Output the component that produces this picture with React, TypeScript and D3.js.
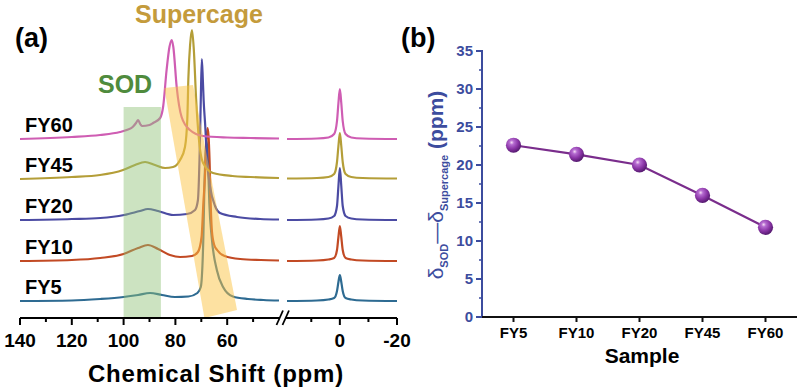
import React from "react";
import * as d3 from "d3";

type Pt = [number, number];

const FONT = "'Liberation Sans', Arial, Helvetica, sans-serif";

// ---- panel (a): 1H MAS NMR traces, [ppm, intensity]
const samples = ["FY5", "FY10", "FY20", "FY45", "FY60"];
const traceColors = ["#2e6b92", "#c24a24", "#4b4ba3", "#b49e38", "#cf5db3"];
const baselines = [21, 61, 102, 143, 183];

const fy5High: Pt[] = [
  [140, 0], [120, 0.5], [109, 2], [100, 4], [94.4, 6], [89.8, 8], [85.2, 6], [80.2, 4],
  [75, 4.5], [71.5, 8], [70.2, 14], [69.2, 64], [68.8, 114], [68.3, 150], [67.9, 160],
  [67.5, 145], [67.3, 131], [66.9, 98], [66, 64], [64, 31], [61.6, 14], [57.8, 4.5],
  [52, 2], [46, 1], [40, 0.5],
];
const fy10High: Pt[] = [
  [140, 0], [120, 1], [109, 3], [100, 7], [94.4, 13], [90.6, 16], [86.7, 12], [82.1, 6],
  [78.2, 4], [73.6, 5], [71.3, 9], [69.9, 24], [69.2, 58], [68.6, 84], [68.1, 118],
  [67.6, 133], [67.2, 125], [66.8, 100], [66.4, 60], [65.9, 30], [65, 16], [63.9, 11],
  [61, 5], [55, 2], [47, 1], [40, 0.5],
];
const fy20High: Pt[] = [
  [140, 0], [120, 1], [109, 2], [99.8, 5], [93.7, 9], [90.6, 11], [86.7, 9], [80.9, 5],
  [75.5, 6], [72.4, 10], [71.3, 20], [70.7, 60], [70.2, 120], [69.8, 161], [69.4, 140],
  [69.1, 120], [68.5, 95], [67.8, 60], [66.6, 33], [64.7, 14], [62.8, 7], [56.2, 3],
  [47.3, 1], [40, 0.5],
];
const fy45High: Pt[] = [
  [140, 0], [120, 2], [109.1, 4], [100.2, 9], [95.6, 14], [91.7, 17], [87.9, 14], [84, 11],
  [80.9, 12], [78.2, 19], [76.3, 32], [75.4, 60], [75, 100], [74.3, 135], [73.6, 149],
  [72.9, 130], [72, 80], [71, 42], [69.3, 16], [65.5, 6], [58, 3], [51, 2], [40, 1],
];
const fy60High: Pt[] = [
  [140, 0], [120, 2], [109.1, 4], [101.4, 7], [98.8, 9], [96.5, 12], [95.2, 16], [94.4, 19],
  [93.6, 15], [92.9, 13], [90, 14], [88.6, 16], [85.9, 21], [84.7, 33], [83.4, 69],
  [82.3, 92], [81.4, 99], [80.8, 92], [79.5, 52], [77.6, 22], [74.4, 9], [69.3, 3],
  [60, 1.5], [51, 1], [40, 0.5],
];

const fy5Tms: Pt[] = [
  [18.5, 0], [8, 0.5], [4, 1.5], [2, 3], [1, 10], [0.5, 19], [0, 26], [-0.5, 19], [-1, 10],
  [-2, 3], [-4, 1.5], [-8, 0.5], [-20, 0],
];
const fy10Tms: Pt[] = [
  [18.5, 0], [8, 0.5], [4, 1.5], [2, 3], [1, 11], [0.5, 24], [0, 35], [-0.5, 24], [-1, 11],
  [-2, 3], [-4, 1.5], [-8, 0.5], [-20, 0],
];
const fy20Tms: Pt[] = [
  [18.5, 0], [8, 0.5], [4, 1.5], [2, 4], [1, 14], [0.5, 34], [0, 52], [-0.5, 34], [-1, 14],
  [-2, 4], [-4, 1.5], [-8, 0.5], [-20, 0],
];
const fy45Tms: Pt[] = [
  [18.5, 0.5], [8, 1], [4, 2], [2, 5], [1, 17], [0.5, 33], [0, 46], [-0.5, 33], [-1, 17],
  [-2, 5], [-4, 2], [-8, 1], [-20, 0.5],
];
const fy60Tms: Pt[] = [
  [18.5, 0], [8, 0.5], [4, 1.5], [2, 5], [1, 18], [0.5, 36], [0, 50], [-0.5, 36], [-1, 18],
  [-2, 5], [-4, 1.5], [-8, 0.5], [-20, 0],
];

const highTraces = [fy5High, fy10High, fy20High, fy45High, fy60High];
const tmsTraces = [fy5Tms, fy10Tms, fy20Tms, fy45Tms, fy60Tms];

// shaded regions (ppm, intensity units)
const sodBand = { ppm: [100, 85.6], level: [4, 215] };
const supercageBand: Pt[] = [[84.3, 234], [73.2, 237], [56.2, 12], [68.8, 4]];

const leftMajor = [140, 120, 100, 80, 60];
const leftMinor = [130, 110, 90, 70, 50];
const rightMajor = [0, -20];
const rightMinor = [10, -10];

// ---- panel (b): chemical shift difference
const deltaValues = [22.6, 21.4, 20.0, 16.0, 11.8];
const yTicksB = [0, 5, 10, 15, 20, 25, 30, 35];
const yMinorB = [2.5, 7.5, 12.5, 17.5, 22.5, 27.5, 32.5];

const BLUE = "#3c4c9e";

export default function App() {
  // panel a scales
  const xLeft = d3.scaleLinear().domain([140, 40]).range([20, 279]);
  const xRight = d3.scaleLinear().domain([18.5, -20]).range([287, 397]);
  const yA = d3.scaleLinear().domain([0, 300]).range([322, 22]);
  const axisY = 318;

  const lineFor = (x: d3.ScaleLinear<number, number>, off: number) =>
    d3
      .line<Pt>()
      .x((d) => x(d[0]))
      .y((d) => yA(d[1] + off))
      .curve(d3.curveMonotoneX);

  // panel b scales
  const xB = d3.scalePoint<string>().domain(samples).range([482, 797]).padding(0.5);
  const yB = d3.scaleLinear().domain([0, 35]).range([317, 51]);
  const lineB = d3
    .line<number>()
    .x((_, i) => xB(samples[i]) as number)
    .y((d) => yB(d));

  return (
    <svg
      width={800}
      height={392}
      style={{ position: "absolute", left: 0, top: 0, background: "#fff" }}
      fontFamily={FONT}
    >
      <defs>
        <radialGradient id="sphere" cx="38%" cy="32%" r="68%">
          <stop offset="0%" stopColor="#f6dcf6" />
          <stop offset="22%" stopColor="#b56bd0" />
          <stop offset="62%" stopColor="#8a35a6" />
          <stop offset="100%" stopColor="#561a70" />
        </radialGradient>
      </defs>

      {/* ---------- (a) ---------- */}
      <g>
        {highTraces.map((tr, i) => (
          <path
            key={"h" + i}
            d={lineFor(xLeft, baselines[i])(tr) as string}
            fill="none"
            stroke={traceColors[i]}
            strokeWidth={2.2}
          />
        ))}
        {tmsTraces.map((tr, i) => (
          <path
            key={"t" + i}
            d={lineFor(xRight, baselines[i])(tr) as string}
            fill="none"
            stroke={traceColors[i]}
            strokeWidth={2.2}
          />
        ))}

        <rect
          x={xLeft(sodBand.ppm[0])}
          width={xLeft(sodBand.ppm[1]) - xLeft(sodBand.ppm[0])}
          y={yA(sodBand.level[1])}
          height={yA(sodBand.level[0]) - yA(sodBand.level[1])}
          fill="#8fc276"
          opacity={0.45}
        />
        <polygon
          points={supercageBand.map((d) => `${xLeft(d[0])},${yA(d[1])}`).join(" ")}
          fill="#fbc443"
          opacity={0.5}
        />

        {/* axis */}
        <line x1={xLeft(140)} x2={280} y1={axisY} y2={axisY} stroke="#000" strokeWidth={2} />
        <line x1={286} x2={xRight(-20)} y1={axisY} y2={axisY} stroke="#000" strokeWidth={2} />
        <line x1={276.5} y1={325} x2={283} y2={310.5} stroke="#000" strokeWidth={1.8} />
        <line x1={282.5} y1={325} x2={289} y2={310.5} stroke="#000" strokeWidth={1.8} />
        {leftMajor.map((t) => (
          <line key={"lM" + t} x1={xLeft(t)} x2={xLeft(t)} y1={axisY} y2={axisY + 7} stroke="#000" strokeWidth={2} />
        ))}
        {leftMinor.map((t) => (
          <line key={"lm" + t} x1={xLeft(t)} x2={xLeft(t)} y1={axisY} y2={axisY + 4} stroke="#000" strokeWidth={2} />
        ))}
        {rightMajor.map((t) => (
          <line key={"rM" + t} x1={xRight(t)} x2={xRight(t)} y1={axisY} y2={axisY + 7} stroke="#000" strokeWidth={2} />
        ))}
        {rightMinor.map((t) => (
          <line key={"rm" + t} x1={xRight(t)} x2={xRight(t)} y1={axisY} y2={axisY + 4} stroke="#000" strokeWidth={2} />
        ))}
        {leftMajor.map((t) => (
          <text key={"lt" + t} x={xLeft(t)} y={347} textAnchor="middle" fontSize={19} fontWeight="bold">
            {t}
          </text>
        ))}
        {rightMajor.map((t) => (
          <text key={"rt" + t} x={xRight(t)} y={347} textAnchor="middle" fontSize={19} fontWeight="bold">
            {t}
          </text>
        ))}
        <text x={216} y={382} textAnchor="middle" fontSize={24} fontWeight="bold" letterSpacing={0.8}>
          Chemical Shift (ppm)
        </text>

        {samples.map((s, i) => (
          <text key={"lab" + s} x={25} y={yA(baselines[i]) - 7} fontSize={20} fontWeight="bold">
            {s}
          </text>
        ))}

        <text x={15} y={47} fontSize={27} fontWeight="bold">(a)</text>
        <text x={135} y={23} fontSize={25} fontWeight="bold" fill="#c49b3c">Supercage</text>
        <text x={98} y={93} fontSize={25} fontWeight="bold" fill="#4f8b3d">SOD</text>
      </g>

      {/* ---------- (b) ---------- */}
      <g>
        <text x={401} y={47} fontSize={27} fontWeight="bold">(b)</text>

        <line x1={482} x2={482} y1={yB(35) - 1} y2={yB(0)} stroke={BLUE} strokeWidth={2} />
        <line x1={481} x2={797} y1={yB(0)} y2={yB(0)} stroke="#111" strokeWidth={2} />
        {yTicksB.map((t) => (
          <g key={"yb" + t}>
            <line x1={476} x2={482} y1={yB(t)} y2={yB(t)} stroke={BLUE} strokeWidth={2} />
            <text x={473} y={yB(t) + 5} textAnchor="end" fontSize={15} fontWeight="bold" fill={BLUE}>
              {t}
            </text>
          </g>
        ))}
        {yMinorB.map((t) => (
          <line key={"ybm" + t} x1={479} x2={482} y1={yB(t)} y2={yB(t)} stroke={BLUE} strokeWidth={1.5} />
        ))}
        {samples.map((s) => (
          <g key={"xb" + s}>
            <line x1={xB(s)} x2={xB(s)} y1={yB(0)} y2={yB(0) + 5} stroke="#111" strokeWidth={2} />
            <text x={xB(s)} y={338} textAnchor="middle" fontSize={15} fontWeight="bold">
              {s}
            </text>
          </g>
        ))}
        <text x={642} y={363} textAnchor="middle" fontSize={21} fontWeight="bold">Sample</text>

        <text transform="translate(443,185) rotate(-90)" textAnchor="middle" fill={BLUE} fontSize={21}>
          <tspan>δ</tspan>
          <tspan dy={5} fontSize={11} fontWeight="bold">SOD</tspan>
          <tspan dy={-5}>—δ</tspan>
          <tspan dy={5} fontSize={11} fontWeight="bold">Supercage</tspan>
          <tspan dy={-5} fontWeight="bold"> (ppm)</tspan>
        </text>

        <path d={lineB(deltaValues) as string} fill="none" stroke="#7a2d8c" strokeWidth={2.2} />
        {deltaValues.map((v, i) => (
          <circle key={"pt" + i} cx={xB(samples[i])} cy={yB(v)} r={7.6} fill="url(#sphere)" />
        ))}
      </g>
    </svg>
  );
}
